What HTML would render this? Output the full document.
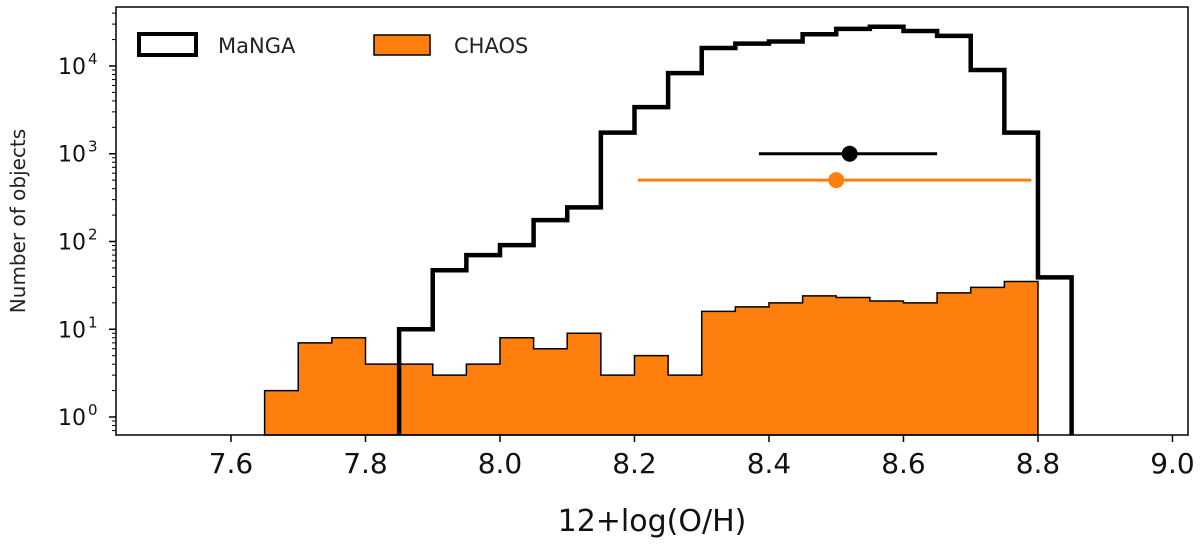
<!DOCTYPE html>
<html><head><meta charset="utf-8"><style>
html,body{margin:0;padding:0;background:#fff;}
svg{display:block;font-family:"DejaVu Sans","Liberation Sans",sans-serif;}
</style></head><body>
<svg id="chart" width="1200" height="545" viewBox="0 0 1200 545" xmlns="http://www.w3.org/2000/svg">
<g id="plot"></g>
<g id="axes"></g>
<g id="legend">
  <rect x="139" y="34" width="57" height="21" fill="#fff" stroke="#000" stroke-width="4"/>
  <text x="218" y="53" font-size="21" fill="#222">MaNGA</text>
  <rect x="374" y="35" width="56" height="20" fill="#ff7f0e" stroke="#000" stroke-width="1.5"/>
  <text x="454" y="53" font-size="21" fill="#222">CHAOS</text>
</g>
<text x="652" y="531" font-size="30" text-anchor="middle" fill="#111">12+log(O/H)</text>
<text transform="translate(25,221) rotate(-90)" font-size="20" text-anchor="middle" fill="#222">Number of objects</text>
</svg>
<script>
const binWidth = 0.05;
const chaosStart = 7.65;
const chaosCounts = [2,7,8,4,4,3,4,8,6,9,3,5,3,16,18,20,24,23,21,20,26,30,35];
const mangaStart = 7.85;
const mangaCounts = [10,47,70,91,175,245,1740,3400,8300,16000,18000,19000,23000,26500,28000,25000,22000,9000,1740,39];
const xTicks = [7.6,7.8,8.0,8.2,8.4,8.6,8.8,9.0];
const xTickLabels = ["7.6","7.8","8.0","8.2","8.4","8.6","8.8","9.0"];
const yTickExps = [0,1,2,3,4];
const errMeans = [8.52, 8.50];
const errLows = [8.385, 8.205];
const errHighs = [8.65, 8.79];
const errYs = [1000, 500];
const errColors = ["#000","#ff7f0e"];
const errNames = ["manga-errorbar","chaos-errorbar"];

const L=116,R=1188,T=7,B=435;
const xMin=7.4290,xMax=9.0231,yMinL=-0.205,yMaxL=4.672;
const NS="http://www.w3.org/2000/svg";
function x(v){return L+(v-xMin)/(xMax-xMin)*(R-L);}
function y(v){return B-(Math.log10(v)-yMinL)/(yMaxL-yMinL)*(B-T);}
function mk(tag,attrs,parent){const e=document.createElementNS(NS,tag);for(const k in attrs)e.setAttribute(k,attrs[k]);parent.appendChild(e);return e;}
const plot=document.getElementById('plot'),axes=document.getElementById('axes');

function stepPath(start,counts,close){
  let d="M"+x(start)+","+B;
  counts.forEach((c,i)=>{const x0=x(start+i*binWidth),x1=x(start+(i+1)*binWidth),yy=y(c);d+=" L"+x0+","+yy+" L"+x1+","+yy;});
  d+=" L"+x(start+counts.length*binWidth)+","+B;
  if(close)d+=" Z";
  return d;
}
const chaos=mk('path',{d:stepPath(chaosStart,chaosCounts,true),fill:"#ff7f0e",stroke:"#000","stroke-width":1.5},plot);


const manga=mk('path',{d:stepPath(mangaStart,mangaCounts,false),fill:"none",stroke:"#000","stroke-width":4.5,"stroke-linejoin":"miter"},plot);



errMeans.forEach((m,i)=>{
  const g=mk('g',{},plot);
  
  
  mk('line',{x1:x(errLows[i]),x2:x(errHighs[i]),y1:y(errYs[i]),y2:y(errYs[i]),stroke:errColors[i],"stroke-width":3},g);
  mk('circle',{cx:x(m),cy:y(errYs[i]),r:8,fill:errColors[i]},g);
});

// spines
const frame=mk('rect',{x:L,y:T,width:R-L,height:B-T,fill:"none",stroke:"#000","stroke-width":1.5},axes);



xTicks.forEach((v,i)=>{
  const xx=x(v);
  mk('line',{x1:xx,x2:xx,y1:B,y2:B+7,stroke:"#000","stroke-width":1.5},axes);
  const t=mk('text',{x:xx,y:B+38,"font-size":28,"text-anchor":"middle",fill:"#111"},axes);
  t.textContent=xTickLabels[i];
  
  
});
yTickExps.forEach(e=>{
  const yy=y(Math.pow(10,e));
  mk('line',{x1:L-7,x2:L,y1:yy,y2:yy,stroke:"#000","stroke-width":1.5},axes);
  const t=mk('text',{x:L-30,y:yy+8,"font-size":22,"text-anchor":"end",fill:"#111"},axes);
  t.textContent="10";
  
  
  const s=mk('text',{x:L-28,y:yy-2,"font-size":15,"text-anchor":"start",fill:"#111"},axes);
  s.textContent=String(e);
  
  
});
for(let e=-1;e<=4;e++){for(let k=2;k<=9;k++){const v=k*Math.pow(10,e);const lv=Math.log10(v);if(lv<yMinL||lv>yMaxL)continue;const yy=y(v);mk('line',{x1:L-4,x2:L,y1:yy,y2:yy,stroke:"#000","stroke-width":1},axes);}}
</script>
</body></html>
